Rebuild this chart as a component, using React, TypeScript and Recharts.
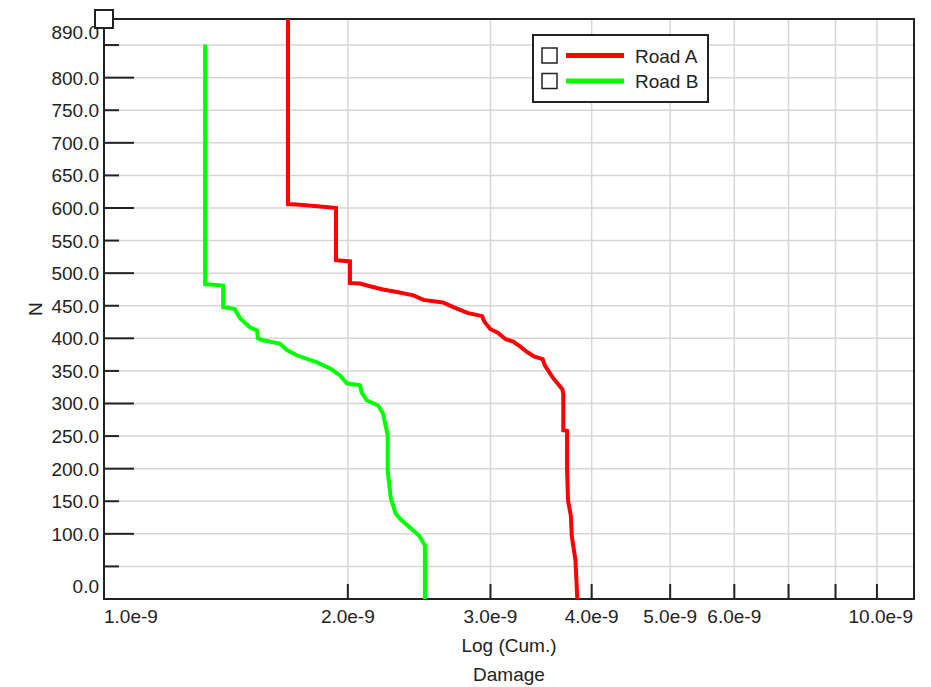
import { LineChart, Line, XAxis, YAxis, CartesianGrid, Legend, ReferenceArea, ReferenceDot } from 'recharts'

// Road A: cumulative damage vs N (top to bottom)
const ROAD_A_DAMAGE = [
  1.687e-9, 1.687e-9, 1.746e-9, 1.864e-9, 1.934e-9, 1.934e-9, 2.012e-9, 2.012e-9, 2.07e-9, 2.13e-9,
  2.21e-9, 2.3e-9, 2.41e-9, 2.48e-9, 2.62e-9, 2.7e-9, 2.81e-9, 2.93e-9, 2.95e-9, 3.0e-9,
  3.06e-9, 3.13e-9, 3.2e-9, 3.26e-9, 3.33e-9, 3.4e-9, 3.48e-9, 3.5e-9, 3.58e-9, 3.68e-9,
  3.69e-9, 3.69e-9, 3.73e-9, 3.73e-9, 3.74e-9, 3.77e-9, 3.78e-9, 3.82e-9, 3.84e-9,
]
const ROAD_A_N = [
  890, 606, 605, 602, 600, 520, 518, 485, 484, 480,
  475, 471, 466, 459, 455, 448, 439, 434, 425, 414,
  409, 399, 395, 388, 379, 372, 368, 359, 340, 322,
  315, 259, 258, 197, 151, 128, 97, 59, 0,
]

// Road B
const ROAD_B_DAMAGE = [
  1.333e-9, 1.333e-9, 1.403e-9, 1.403e-9, 1.45e-9, 1.472e-9, 1.514e-9, 1.545e-9, 1.549e-9, 1.572e-9,
  1.649e-9, 1.682e-9, 1.73e-9, 1.832e-9, 1.901e-9, 1.956e-9, 1.995e-9, 2.07e-9, 2.08e-9, 2.11e-9,
  2.18e-9, 2.21e-9, 2.24e-9, 2.24e-9, 2.26e-9, 2.29e-9, 2.32e-9, 2.39e-9, 2.45e-9, 2.49e-9,
  2.49e-9,
]
const ROAD_B_N = [
  851, 483, 481, 448, 445, 431, 417, 412, 400, 397,
  392, 382, 374, 363, 354, 343, 331, 328, 317, 305,
  297, 285, 251, 197, 155, 132, 123, 109, 97, 82,
  0,
]

const X_TICKS = [1e-9, 2e-9, 3e-9, 4e-9, 5e-9, 6e-9, 7e-9, 8e-9, 9e-9, 1e-8]
const X_TICK_LABELS = ['1.0e-9', '2.0e-9', '3.0e-9', '4.0e-9', '5.0e-9', '6.0e-9', '', '', '', '10.0e-9']

const Y_TICKS = [0, 50, 100, 150, 200, 250, 300, 350, 400, 450, 500, 550, 600, 650, 700, 750, 800, 850, 890]
const Y_TICK_LABELS = [
  '0.0', '', '100.0', '150.0', '200.0', '250.0', '300.0', '350.0', '400.0', '450.0',
  '500.0', '550.0', '600.0', '650.0', '700.0', '750.0', '800.0', '', '890.0',
]

const roadA = ROAD_A_DAMAGE.map((d, i) => ({ damage: d, n: ROAD_A_N[i] }))
const roadB = ROAD_B_DAMAGE.map((d, i) => ({ damage: d, n: ROAD_B_N[i] }))

const FONT = '"Liberation Sans", Arial, sans-serif'
const INK = '#222'
const PLOT_LEFT = 104
const PLOT_BOTTOM = 599

// eslint-disable-next-line @typescript-eslint/no-explicit-any
const YTick = (props: any) => {
  const { y, index, payload } = props
  const value = payload.value
  const label = Y_TICK_LABELS[index]
  const isEnd = value === 0 || value === 890
  const len = value % 100 === 0 ? 30 : 15
  let ty = y + 7
  if (value === 0) ty = y - 6
  if (value === 890) ty = y + 20
  return (
    <g>
      {!isEnd && <line x1={PLOT_LEFT} x2={PLOT_LEFT + len} y1={y} y2={y} stroke={INK} strokeWidth={2} />}
      {label && (
        <text x={99} y={ty} textAnchor="end" fontFamily={FONT} fontSize={19} fill={INK}>
          {label}
        </text>
      )}
    </g>
  )
}

// eslint-disable-next-line @typescript-eslint/no-explicit-any
const XTick = (props: any) => {
  const { x, index } = props
  const label = X_TICK_LABELS[index]
  const isEnd = index === 0 || index === X_TICKS.length - 1
  const anchor = index === 0 ? 'start' : index === X_TICKS.length - 1 ? 'end' : 'middle'
  const tx = index === X_TICKS.length - 1 ? x - 1 : x
  return (
    <g>
      {!isEnd && <line x1={x} x2={x} y1={PLOT_BOTTOM} y2={PLOT_BOTTOM - 15} stroke={INK} strokeWidth={2} />}
      {label && (
        <text x={tx} y={623} textAnchor={anchor} fontFamily={FONT} fontSize={19} fill={INK}>
          {label}
        </text>
      )}
    </g>
  )
}

// eslint-disable-next-line @typescript-eslint/no-explicit-any
const XTitle = (props: any) => {
  const vb = props.viewBox || { x: 104, width: 810 }
  const cx = vb.x + vb.width / 2
  return (
    <g fontFamily={FONT} fontSize={19} fill={INK}>
      <text x={cx} y={652} textAnchor="middle">Log (Cum.)</text>
      <text x={cx} y={681} textAnchor="middle">Damage</text>
    </g>
  )
}

const YTitle = () => (
  <text
    x={35}
    y={309}
    transform="rotate(-90, 35, 309)"
    textAnchor="middle"
    dominantBaseline="central"
    fontFamily={FONT}
    fontSize={19}
    fill={INK}
  >
    N
  </text>
)

// eslint-disable-next-line @typescript-eslint/no-explicit-any
const renderLegend = (props: any) => {
  const { payload } = props
  return (
    <svg width={177} height={69} style={{ display: 'block' }}>
      <rect x={1} y={1} width={175} height={67} fill="#fff" stroke={INK} strokeWidth={2} />
      {payload?.map((entry: { value: string; color: string }, i: number) => {
        const cy = 21.5 + i * 25.5
        return (
          <g key={entry.value}>
            <rect x={10} y={cy - 7.5} width={15} height={15} fill="#fff" stroke={INK} strokeWidth={1.5} />
            <line x1={34} x2={92} y1={cy} y2={cy} stroke={entry.color} strokeWidth={5} />
            <text x={103} y={cy + 7} fontFamily={FONT} fontSize={19} fill={INK}>
              {entry.value}
            </text>
          </g>
        )
      })}
    </svg>
  )
}

// eslint-disable-next-line @typescript-eslint/no-explicit-any
const CornerBox = (props: any) => (
  <rect x={props.cx - 9} y={props.cy - 9} width={18} height={18} fill="#fff" stroke={INK} strokeWidth={2} />
)

export default function App() {
  return (
    <div style={{ position: 'absolute', left: 0, top: 0, background: '#fff' }}>
      <LineChart width={931} height={687} margin={{ top: 19, right: 17, bottom: 0, left: 0 }}>
        <CartesianGrid stroke="#d6d6d6" strokeWidth={1.5} />
        <XAxis
          dataKey="damage"
          type="number"
          scale="log"
          domain={[1e-9, 1e-8]}
          allowDataOverflow
          ticks={X_TICKS}
          interval={0}
          height={88}
          axisLine={false}
          tickLine={false}
          tick={<XTick />}
          label={<XTitle />}
        />
        <YAxis
          dataKey="n"
          type="number"
          domain={[0, 890]}
          allowDataOverflow
          ticks={Y_TICKS}
          interval={0}
          width={104}
          axisLine={false}
          tickLine={false}
          tick={<YTick />}
          label={<YTitle />}
        />
        <Line
          data={roadA}
          dataKey="n"
          name="Road A"
          type="linear"
          stroke="#ff0000"
          strokeWidth={4}
          dot={false}
          isAnimationActive={false}
        />
        <Line
          data={roadB}
          dataKey="n"
          name="Road B"
          type="linear"
          stroke="#00ff00"
          strokeWidth={4}
          dot={false}
          isAnimationActive={false}
        />
        <ReferenceArea
          x1={1e-9}
          x2={1e-8}
          y1={0}
          y2={890}
          fill="none"
          stroke={INK}
          strokeWidth={2}
          ifOverflow="visible"
        />
        <ReferenceDot x={1e-9} y={890} r={9} shape={<CornerBox />} ifOverflow="visible" />
        <Legend
          layout="vertical"
          verticalAlign="middle"
          align="center"
          content={renderLegend}
          wrapperStyle={{ left: 532, top: 34, width: 177, height: 69 }}
        />
      </LineChart>
    </div>
  )
}
